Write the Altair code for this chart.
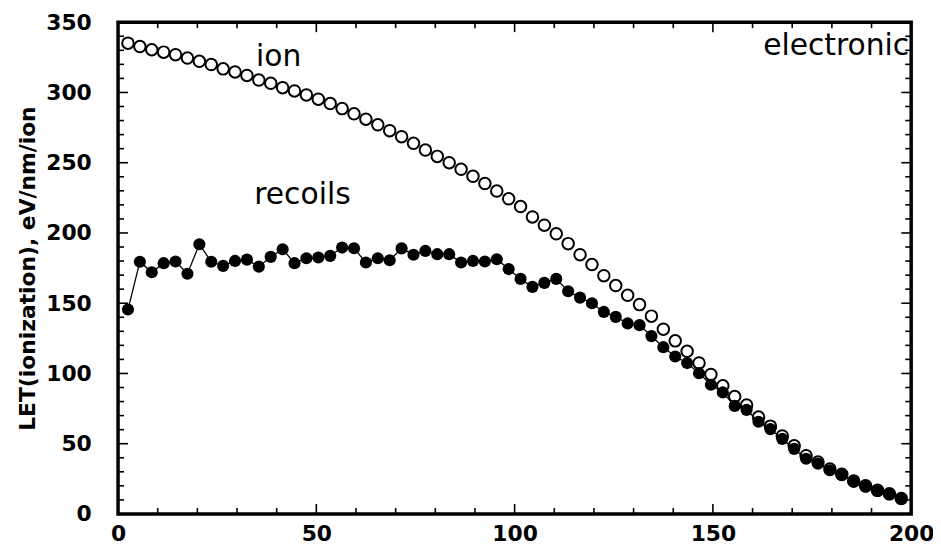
import altair as alt
import pandas as pd

depth = [2.5, 5.5, 8.5, 11.5, 14.5, 17.5, 20.5, 23.5, 26.5, 29.5, 32.5, 35.5,
         38.5, 41.5, 44.5, 47.5, 50.5, 53.5, 56.5, 59.5, 62.5, 65.5, 68.5, 71.5,
         74.5, 77.5, 80.5, 83.5, 86.5, 89.5, 92.5, 95.5, 98.5, 101.5, 104.5, 107.5,
         110.5, 113.5, 116.5, 119.5, 122.5, 125.5, 128.5, 131.5, 134.5, 137.5, 140.5,
         143.5, 146.5, 149.5, 152.5, 155.5, 158.5, 161.5, 164.5, 167.5, 170.5, 173.5,
         176.5, 179.5, 182.5, 185.5, 188.5, 191.5, 194.5, 197.5]

ion = [335.1, 332.7, 330.4, 328.7, 326.9, 324.5, 322.2, 319.9, 316.8, 314.6, 312.1,
       308.8, 306.5, 303.4, 301.1, 298.2, 295.2, 292.1, 288.5, 284.8, 281.0, 277.0,
       272.8, 268.5, 263.8, 259.0, 254.5, 250.0, 245.3, 240.3, 235.2, 229.8, 224.3,
       218.8, 211.4, 205.5, 199.4, 192.4, 184.5, 177.5, 169.6, 162.6, 155.6, 149.0,
       140.8, 131.5, 123.2, 115.8, 107.5, 99.3, 91.2, 83.6, 77.5, 69.0, 62.5, 55.5,
       48.5, 41.5, 37.0, 32.0, 28.3, 23.5, 20.0, 16.8, 14.3, 11.0]

recoils = [145.5, 179.5, 172.0, 178.5, 179.7, 171.0, 192.0, 179.5, 176.6, 180.1, 181.0,
           176.0, 183.0, 188.4, 178.5, 182.0, 182.5, 183.7, 189.6, 189.1, 179.0, 182.0,
           180.6, 189.0, 184.5, 187.2, 184.9, 184.9, 179.0, 180.1, 179.7, 181.3, 174.3,
           167.3, 161.6, 164.5, 167.3, 158.5, 154.0, 150.0, 143.8, 140.3, 135.6, 134.4,
           126.6, 118.7, 112.1, 107.4, 100.2, 92.0, 86.5, 76.9, 74.1, 65.6, 60.4, 53.4,
           46.3, 39.3, 35.8, 31.1, 27.6, 22.9, 19.4, 16.3, 14.0, 10.7]

x_major = [0, 50, 100, 150, 200]
x_minor = [10, 20, 30, 40, 60, 70, 80, 90, 110, 120, 130, 140, 160, 170, 180, 190]
y_major = [0, 50, 100, 150, 200, 250, 300, 350]
y_minor = [10, 20, 30, 40, 60, 70, 80, 90, 110, 120, 130, 140, 160, 170, 180, 190,
           210, 220, 230, 240, 260, 270, 280, 290, 310, 320, 330, 340]

labels = ["ion", "recoils", "electronic"]
label_x = [40.5, 46.5, 199.5]
label_y = [325.0, 227.0, 333.0]
label_align = ["center", "center", "right"]

W, H = 800, 496
FONT = "DejaVu Sans"

xs = alt.Scale(domain=[0, 200], nice=False, zero=False)
ys = alt.Scale(domain=[0, 350], nice=False, zero=False)

df = pd.DataFrame({"depth": depth, "ion": ion, "recoils": recoils})

base = alt.Chart(df)

xax = alt.Axis(values=x_major, ticks=False, tickSize=0, domain=False, grid=False,
               labelFont=FONT, labelFontSize=22, labelFontWeight="bold",
               labelColor="black", labelPadding=10, labelFlush=False, title=None)
yax = alt.Axis(values=y_major, ticks=False, tickSize=0, domain=False, grid=False,
               labelFont=FONT, labelFontSize=22, labelFontWeight="bold",
               labelColor="black", labelPadding=27, labelFlush=False,
               title="LET(ionization), eV/nm/ion", titleFont=FONT,
               titleFontSize=22, titleFontWeight="bold", titleColor="black",
               titleAngle=-90, titleX=-91, titleY=H / 2, titleAlign="center",
               titleBaseline="middle")

ion_pts = base.mark_point(shape="circle", filled=True, fill="white", stroke="black",
                          strokeWidth=2, size=135, opacity=1).encode(
    x=alt.X("depth:Q", scale=xs, axis=xax),
    y=alt.Y("ion:Q", scale=ys, axis=yax),
)

rec_line = base.mark_line(color="black", strokeWidth=1.3).encode(
    x=alt.X("depth:Q", scale=xs),
    y=alt.Y("recoils:Q", scale=ys),
)
rec_pts = base.mark_circle(color="black", size=150, opacity=1).encode(
    x=alt.X("depth:Q", scale=xs),
    y=alt.Y("recoils:Q", scale=ys),
)

ldf = pd.DataFrame({"t": labels, "x": label_x, "y": label_y, "a": label_align})
txt_c = alt.Chart(ldf[ldf.a == "center"]).mark_text(
    font=FONT, fontSize=30, color="black", align="center", baseline="middle").encode(
    x=alt.X("x:Q", scale=xs), y=alt.Y("y:Q", scale=ys), text="t:N")
txt_r = alt.Chart(ldf[ldf.a == "right"]).mark_text(
    font=FONT, fontSize=30, color="black", align="right", baseline="middle").encode(
    x=alt.X("x:Q", scale=xs), y=alt.Y("y:Q", scale=ys), text="t:N")

def xticks(vals, length):
    d = pd.DataFrame({"v": vals})
    bot = alt.Chart(d).mark_rule(color="black", strokeWidth=1.6).encode(
        x=alt.X("v:Q", scale=xs), y=alt.value(H), y2=alt.value(H - length))
    top = alt.Chart(d).mark_rule(color="black", strokeWidth=1.6).encode(
        x=alt.X("v:Q", scale=xs), y=alt.value(0), y2=alt.value(length))
    return [bot, top]

def yticks(vals, length):
    d = pd.DataFrame({"v": vals})
    left = alt.Chart(d).mark_rule(color="black", strokeWidth=1.6).encode(
        y=alt.Y("v:Q", scale=ys), x=alt.value(0), x2=alt.value(length))
    right = alt.Chart(d).mark_rule(color="black", strokeWidth=1.6).encode(
        y=alt.Y("v:Q", scale=ys), x=alt.value(W), x2=alt.value(W - length))
    return [left, right]

layers = [ion_pts, rec_line, rec_pts, txt_c, txt_r]
layers += xticks(x_major, 10) + xticks(x_minor, 6)
layers += yticks(y_major, 10) + yticks(y_minor, 6)

chart = alt.layer(*layers).properties(
    width=W, height=H,
    autosize=alt.AutoSizeParams(type="none"),
    padding={"left": 111, "top": 12, "right": 22, "bottom": 32},
    background="white",
).configure_view(stroke="black", strokeWidth=3.5)

chart.save("out.html", embed_options={"renderer": "svg", "actions": False})
